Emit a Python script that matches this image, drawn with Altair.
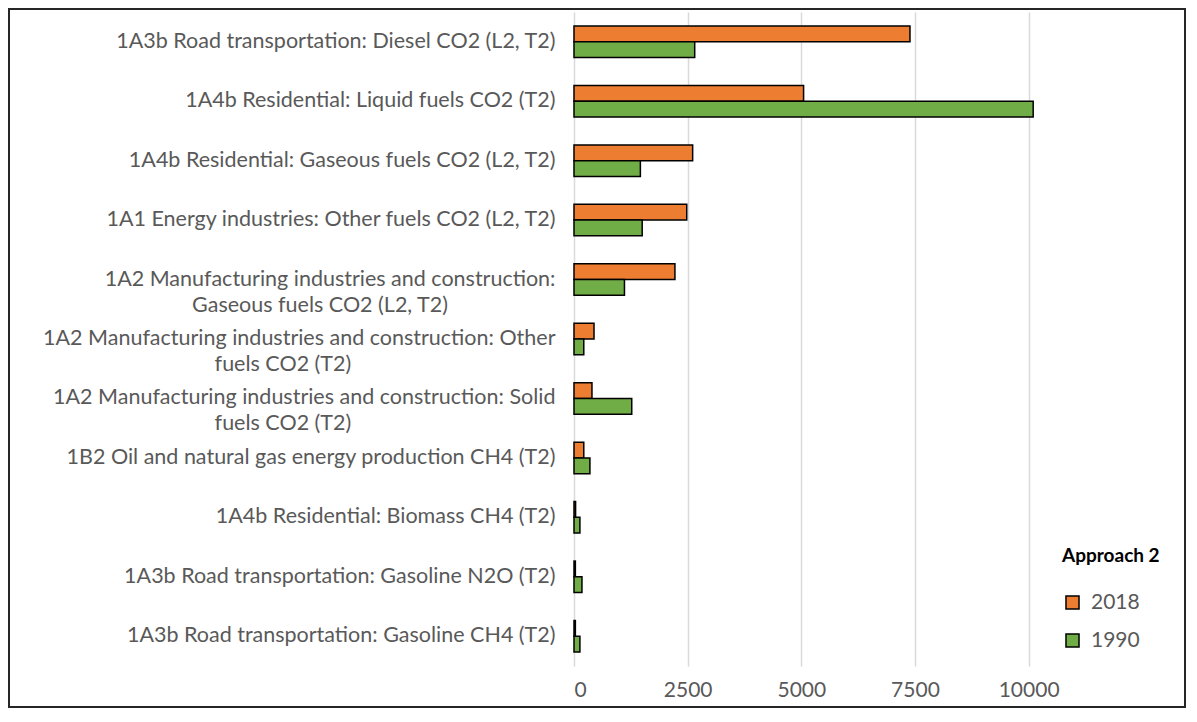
import altair as alt
import pandas as pd

# ---- data ----
categories = [
    "1A3b Road transportation: Diesel CO2 (L2, T2)",
    "1A4b Residential: Liquid fuels CO2 (T2)",
    "1A4b Residential: Gaseous fuels CO2 (L2, T2)",
    "1A1 Energy industries: Other fuels CO2 (L2, T2)",
    "1A2 Manufacturing industries and construction:|Gaseous fuels CO2 (L2, T2)",
    "1A2 Manufacturing industries and construction: Other|fuels CO2 (T2)",
    "1A2 Manufacturing industries and construction: Solid|fuels CO2 (T2)",
    "1B2 Oil and natural gas energy production CH4 (T2)",
    "1A4b Residential: Biomass CH4 (T2)",
    "1A3b Road transportation: Gasoline N2O (T2)",
    "1A3b Road transportation: Gasoline CH4 (T2)",
]
values_2018 = [7390, 5050, 2610, 2480, 2220, 440, 395, 215, 35, 30, 30]
values_1990 = [2655, 10100, 1460, 1500, 1110, 215, 1270, 350, 130, 175, 130]
series = ["2018", "1990"]
series_colors = ["#ED7D31", "#70AD47"]
x_ticks = [0, 2500, 5000, 7500, 10000]
legend_title = "Approach 2"

rows = []
for c, a, b in zip(categories, values_2018, values_1990):
    rows.append({"category": c, "series": series[0], "value": a})
    rows.append({"category": c, "series": series[1], "value": b})
df = pd.DataFrame(rows)

W = 466
H = 654
AXIS_EXT = 566
FONT = "Lato"
GREY = "#595959"

# second line of a wrapped label is centred under the first one
# (en-space padding, closed by a zero-width space so it is not trimmed)
label_expr = (
    "indexof(datum.label,'|') < 0 ? datum.label : "
    "[split(datum.label,'|')[0], "
    "pad(split(datum.label,'|')[1], length(split(datum.label,'|')[0]), '\u2002', 'center') + '\u200b']"
)

bars = alt.Chart(df).mark_bar(stroke="black", strokeWidth=1.5).encode(
    y=alt.Y(
        "category:N",
        sort=categories,
        scale=alt.Scale(paddingInner=0.47, paddingOuter=0.235),
        axis=alt.Axis(
            title=None,
            ticks=False,
            domain=False,
            grid=False,
            labelExpr=label_expr,
            labelLimit=0,
            labelPadding=19,
            labelFontSize=21.5,
            labelLineHeight=26,
            labelColor=GREY,
            labelFont=FONT,
            minExtent=AXIS_EXT,
            maxExtent=AXIS_EXT,
        ),
    ),
    yOffset=alt.YOffset("series:N", sort=series),
    x=alt.X(
        "value:Q",
        scale=alt.Scale(domain=[0, 10250], nice=False, zero=True),
        axis=alt.Axis(
            title=None,
            values=x_ticks,
            format="d",
            ticks=False,
            domain=False,
            grid=True,
            gridColor="#D9D9D9",
            gridWidth=1.5,
            labelPadding=13,
            labelFontSize=21,
            labelColor=GREY,
            labelFont=FONT,
        ),
    ),
    color=alt.Color(
        "series:N",
        sort=series,
        scale=alt.Scale(domain=series, range=series_colors),
        legend=alt.Legend(
            title=legend_title,
            orient="none",
            legendX=488,
            legendY=535,
            titleFont=FONT,
            titleFontSize=19,
            titleFontWeight="bold",
            titleColor="black",
            titlePadding=26,
            labelFont=FONT,
            labelFontSize=21,
            labelColor=GREY,
            labelOffset=8,
            symbolType="square",
            symbolSize=170,
            symbolStrokeColor="black",
            symbolStrokeWidth=1.5,
            rowPadding=16,
        ),
    ),
)

frame = alt.Chart(pd.DataFrame({"f": [0]})).mark_rect(
    fill=None, stroke="#262626", strokeWidth=2
).encode(
    x=alt.value(-AXIS_EXT + 1),
    x2=alt.value(1177 - AXIS_EXT),
    y=alt.value(-3),
    y2=alt.value(H + 41),
)

chart = alt.layer(frame, bars).properties(
    width=W,
    height=H,
    padding=0,
    background="white",
).configure_view(stroke=None)

chart.save("out.html", embed_options={"renderer": "svg", "actions": False})
